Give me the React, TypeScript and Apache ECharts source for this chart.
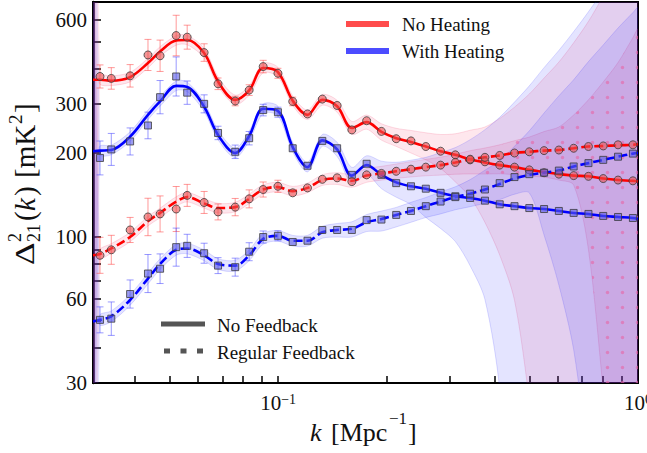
import React, { useEffect, useRef } from "react";
import * as echarts from "echarts";

// ---------------- data ----------------
// k values of the binned measurements (Mpc^-1)
const kData = [0.0320, 0.0344, 0.0388, 0.0435, 0.0470, 0.0521, 0.0559, 0.0623, 0.0681, 0.0760, 0.0831, 0.0909,
  0.0999, 0.1098, 0.1207, 0.1327, 0.1459, 0.1603, 0.1762, 0.1937, 0.2129, 0.2340, 0.2573, 0.2828, 0.3108, 0.3417,
  0.3756, 0.4128, 0.4538, 0.4988, 0.5483, 0.6027, 0.6625, 0.7283, 0.8005, 0.8800, 0.9680];
// k grid of the fitted curves (axis edge + measurement k + axis edge)
const kFit = [0.0306, 0.0320, 0.0344, 0.0388, 0.0435, 0.0470, 0.0521, 0.0559, 0.0623, 0.0681, 0.0760, 0.0831, 0.0909,
  0.0999, 0.1098, 0.1207, 0.1327, 0.1459, 0.1603, 0.1762, 0.1937, 0.2129, 0.2340, 0.2573, 0.2828, 0.3108, 0.3417,
  0.3756, 0.4128, 0.4538, 0.4988, 0.5483, 0.6027, 0.6625, 0.7283, 0.8005, 0.8800, 0.9680, 1.0];

// measured points
const noHeatNoFb = [376, 370, 378, 449, 446, 527, 520, 458, 354, 307, 336, 408, 386, 306, 276, 312, 296, 242, 261, 239,
  225, 221, 211, 203, 197, 189, 186, 181, 178, 174, 170, 168, 166, 165, 162, 160, 159];
const heatNoFb = [192, 206, 220, 251, 317, 376, 329, 300, 236, 202, 226, 285, 280, 208, 180, 221, 208, 167, 183, 167,
  156, 152, 149, 144, 140, 138, 135, 131, 129, 127, 126, 124, 122, 121, 119, 118, 117];
const noHeatFb = [86, 90, 106, 118, 121, 126, 141, 133, 123, 128, 137, 148, 152, 144, 150, 161, 163, 158, 167, 169,
  172, 175, 178, 181, 185, 190, 193, 196, 200, 202, 204, 205, 208, 211, 212, 214, 214];
const heatFb = [50.5, 51, 62.5, 74, 77, 92, 93, 87.5, 79, 78, 88.6, 100, 101, 96, 97, 106, 106, 106, 115, 115.5,
  120, 124, 129, 134, 139, 143, 148, 156, 164, 168, 170, 173, 179, 184, 189, 194, 199];

// fractional error bars
const errNoHeatNoFb = [0.100, 0.093, 0.097, 0.137, 0.138, 0.182, 0.104, 0.075, 0.049, 0.040, 0.045, 0.053, 0.042, 0.036,
  0.030, 0.028, 0.025, 0.022, 0.020, 0.018, 0.015, 0.012, 0.010, 0, 0, 0, 0, 0, 0, 0, 0, 0, 0, 0, 0, 0, 0];
const errHeatNoFb = [0.150, 0.141, 0.118, 0.116, 0.147, 0.175, 0.101, 0.077, 0.057, 0.057, 0.057, 0.049, 0.042, 0.033,
  0.030, 0.028, 0.025, 0.022, 0.020, 0.018, 0.015, 0.012, 0.010, 0, 0, 0, 0, 0, 0, 0, 0, 0, 0, 0, 0, 0, 0];
const errNoHeatFb = [0.160, 0.127, 0.109, 0.167, 0.160, 0.204, 0.095, 0.095, 0.068, 0.074, 0.077, 0.064, 0.051, 0.033,
  0.025, 0.025, 0.022, 0.020, 0.018, 0.015, 0.012, 0.010, 0.008, 0, 0, 0, 0, 0, 0, 0, 0, 0, 0, 0, 0, 0, 0];
const errHeatFb = [0.113, 0.148, 0.123, 0.170, 0.130, 0.170, 0.100, 0.086, 0.068, 0.077, 0.077, 0.051, 0.042, 0.033,
  0.030, 0.028, 0.025, 0.022, 0.020, 0.018, 0.015, 0.012, 0.010, 0, 0, 0, 0, 0, 0, 0, 0, 0, 0, 0, 0, 0, 0];

// fitted curves on kFit
const fitNoHeatNoFb = [366, 366, 363, 374, 420, 462, 506, 508, 456, 361, 310, 335, 403, 390, 308, 274, 310, 294, 246, 258,
  238, 226, 219, 211, 203, 197, 190, 185, 181, 178, 174, 171, 168, 166, 165, 162, 160, 159, 158];
const fitHeatNoFb = [203, 204, 205, 229, 274, 306, 348, 345, 293, 232, 200, 230, 288, 283, 210, 178, 222, 206, 166, 181,
  167, 157, 152, 149, 144, 140, 138, 135, 131, 129, 127, 126, 124, 122, 121, 119, 118, 117, 116];
const fitNoHeatFb = [86, 87, 91, 100, 114, 122, 134, 139, 132, 127, 128, 137, 148, 151, 146, 150, 160, 162, 159, 166,
  169, 172, 175, 178, 181, 185, 190, 193, 196, 200, 202, 204, 205, 208, 211, 212, 213, 214, 215];
const fitHeatFb = [49.8, 50.5, 52, 59.5, 71, 80, 90, 91, 86, 80, 79, 86, 98.5, 101, 97, 97, 104, 106, 107, 113,
  116, 120, 124, 129, 134, 139, 143, 148, 155, 162, 167, 170, 173, 179, 184, 189, 194, 199, 200];

// uncertainty band: multiplicative factors (upper = fit*up, lower = fit/lo) on kFit
const upNoHeatNoFb = [30, 1.04, 1.04, 1.04, 1.04, 1.04, 1.04, 1.04, 1.04, 1.04, 1.04, 1.04, 1.04, 1.04, 1.04, 1.04,
  1.045, 1.05, 1.055, 1.06, 1.07, 1.085, 1.10, 1.12, 1.148, 1.19, 1.27, 1.34, 1.47, 1.64, 1.87, 2.17, 2.52, 2.99, 3.59,
  4.52, 5.9, 7.9, 8.6];
const loNoHeatNoFb = [30, 1.04, 1.04, 1.04, 1.04, 1.04, 1.04, 1.04, 1.04, 1.04, 1.04, 1.04, 1.04, 1.04, 1.04, 1.04,
  1.045, 1.05, 1.055, 1.06, 1.07, 1.07, 1.095, 1.116, 1.153, 1.25, 1.368, 1.64, 2.10, 3.0, 6.7, 20, 30, 40, 50, 60,
  70, 80, 80];
const upHeatNoFb = [30, 1.04, 1.04, 1.04, 1.04, 1.04, 1.04, 1.04, 1.04, 1.04, 1.04, 1.04, 1.04, 1.04, 1.04, 1.04,
  1.05, 1.06, 1.07, 1.08, 1.12, 1.18, 1.24, 1.295, 1.394, 1.494, 1.618, 1.796, 2.05, 2.36, 2.74, 3.21, 3.76, 4.46, 5.3,
  6.45, 8.35, 11.3, 12.3];
const loHeatNoFb = [30, 1.04, 1.04, 1.04, 1.04, 1.04, 1.04, 1.04, 1.04, 1.04, 1.04, 1.04, 1.04, 1.04, 1.04, 1.04,
  1.05, 1.06, 1.07, 1.08, 1.12, 1.13, 1.163, 1.267, 1.342, 1.453, 1.75, 2.26, 4.6, 25, 40, 50, 60, 70, 80, 90, 100,
  100, 100];
const upNoHeatFb = [30, 1.04, 1.04, 1.04, 1.04, 1.04, 1.04, 1.04, 1.04, 1.04, 1.04, 1.04, 1.04, 1.04, 1.04, 1.04,
  1.045, 1.05, 1.055, 1.06, 1.06, 1.062, 1.064, 1.066, 1.068, 1.07, 1.073, 1.08, 1.092, 1.107, 1.129, 1.17, 1.209,
  1.316, 1.47, 1.695, 1.98, 2.42, 2.58];
const loNoHeatFb = [30, 1.04, 1.04, 1.04, 1.04, 1.04, 1.04, 1.04, 1.04, 1.04, 1.04, 1.04, 1.04, 1.04, 1.04, 1.04,
  1.045, 1.05, 1.055, 1.057, 1.057, 1.06, 1.066, 1.074, 1.086, 1.102, 1.129, 1.148, 1.163, 1.196, 1.222, 1.245, 1.281,
  1.354, 2.34, 7.5, 27, 50, 60];
const upHeatFb = [30, 1.045, 1.045, 1.045, 1.045, 1.045, 1.045, 1.045, 1.045, 1.045, 1.045, 1.045, 1.045, 1.045, 1.045,
  1.045, 1.05, 1.055, 1.06, 1.065, 1.068, 1.064, 1.074, 1.074, 1.083, 1.089, 1.123, 1.173, 1.212, 1.305, 1.438, 1.636,
  1.852, 2.045, 2.31, 2.58, 2.89, 3.2, 3.31];
const loHeatFb = [30, 1.045, 1.045, 1.045, 1.045, 1.045, 1.045, 1.045, 1.045, 1.045, 1.045, 1.045, 1.045, 1.045, 1.045,
  1.045, 1.05, 1.06, 1.07, 1.08, 1.104, 1.104, 1.098, 1.098, 1.107, 1.11, 1.113, 1.12, 1.138, 1.138, 1.16, 1.672, 2.57,
  4.53, 11.6, 27, 40, 60, 70];

// axis ticks / labels
const xTickValues = [0.04, 0.05, 0.06, 0.07, 0.08, 0.09, 0.1, 0.2, 0.3, 0.4, 0.5, 0.6, 0.7, 0.8, 0.9, 1];
const xLabelValues = [0.1, 1];
const yTickValues = [40, 50, 60, 70, 80, 90, 100, 200, 300, 400, 500, 600];
const yLabelValues = [30, 60, 100, 200, 300, 600];
const hatchStartIndex = 27; // index in kFit where the dotted hatch starts

// ---------------- styles ----------------
const FONT = "'Liberation Serif', 'DejaVu Serif', serif";
const TXT = "#111";
const RED = "#ff0000";
const BLUE = "#0000ff";
const RED_FILL = "rgba(245,40,90,0.11)";
const BLUE_FILL = "rgba(50,50,255,0.13)";
const RED_EDGE = "rgba(245,40,90,0.2)";
const BLUE_EDGE = "rgba(50,50,255,0.22)";

function bandSeries(fit: number[], up: number[], lo: number[], fill: string, edge: string) {
  return {
    type: "custom",
    coordinateSystem: "cartesian2d",
    clip: true,
    silent: true,
    z: 1,
    data: [[0.1, 100]],
    renderItem: (_p: any, api: any) => {
      const upper: number[][] = [];
      const lower: number[][] = [];
      for (let i = 1; i < kFit.length; i++) {
        upper.push(api.coord([kFit[i], fit[i] * up[i]]));
        lower.push(api.coord([kFit[i], fit[i] / lo[i]]));
      }
      const wedge = [
        api.coord([kFit[0], fit[0] * up[0]]),
        upper[0],
        lower[0],
        api.coord([kFit[0], fit[0] / lo[0]]),
      ];
      const main = upper.concat(lower.slice().reverse());
      return {
        type: "group",
        children: [
          { type: "polygon", shape: { points: main, smooth: 0.3 }, style: { fill, stroke: edge, lineWidth: 0.8 } },
          { type: "polygon", shape: { points: wedge }, style: { fill } },
        ],
      };
    },
  };
}

function hatchSeries(fit: number[], up: number[], lo: number[], pattern: any) {
  return {
    type: "custom",
    coordinateSystem: "cartesian2d",
    clip: true,
    silent: true,
    z: 1,
    data: [[0.5, 100]],
    renderItem: (_p: any, api: any) => {
      const upper: number[][] = [];
      const lower: number[][] = [];
      for (let i = hatchStartIndex; i < kFit.length; i++) {
        upper.push(api.coord([kFit[i], fit[i] * up[i]]));
        lower.push(api.coord([kFit[i], fit[i] / lo[i]]));
      }
      const pts = upper.concat(lower.slice().reverse());
      return { type: "polygon", shape: { points: pts, smooth: 0.3 }, style: { fill: pattern } };
    },
  };
}

function errSeries(vals: number[], errs: number[], color: string) {
  return {
    type: "custom",
    coordinateSystem: "cartesian2d",
    clip: true,
    silent: true,
    z: 2,
    encode: { x: 0, y: 1 },
    data: kData.map((k, i) => [k, vals[i], errs[i]]),
    renderItem: (_p: any, api: any) => {
      const k = api.value(0);
      const v = api.value(1);
      const e = api.value(2);
      if (!e) return null;
      const top = api.coord([k, v * (1 + e)]);
      const bot = api.coord([k, v / (1 + e)]);
      if (bot[1] - top[1] < 8) return null;
      const cw = 3.5;
      const st = { stroke: color, lineWidth: 1 };
      return {
        type: "group",
        children: [
          { type: "line", shape: { x1: top[0], y1: top[1], x2: bot[0], y2: bot[1] }, style: st },
          { type: "line", shape: { x1: top[0] - cw, y1: top[1], x2: top[0] + cw, y2: top[1] }, style: st },
          { type: "line", shape: { x1: bot[0] - cw, y1: bot[1], x2: bot[0] + cw, y2: bot[1] }, style: st },
        ],
      };
    },
  };
}

function lineSeries(fit: number[], color: string, dashed: boolean) {
  return {
    type: "line",
    silent: true,
    z: 3,
    smooth: 0.35,
    showSymbol: false,
    data: kFit.map((k, i) => [k, fit[i]]),
    lineStyle: { color, width: 2.6, type: dashed ? [9, 4] : "solid", cap: "butt" },
  };
}

function markerSeries(vals: number[], symbol: string, size: number, fill: string) {
  return {
    type: "scatter",
    silent: true,
    z: 4,
    symbol,
    symbolSize: size,
    data: kData.map((k, i) => [k, vals[i]]),
    itemStyle: { color: fill, borderColor: "rgba(60,60,60,0.8)", borderWidth: 1, opacity: 1 },
  };
}

function txt(x: number, y: number, text: string, size: number, extra: any = {}, el: any = {}) {
  return {
    type: "text",
    x,
    y,
    silent: true,
    ...el,
    style: {
      text,
      fontSize: size,
      fontFamily: FONT,
      fill: TXT,
      align: "left",
      verticalAlign: "middle",
      textAlign: "left",
      textVerticalAlign: "middle",
      ...extra,
    },
  };
}

function buildOption() {
  const pc = document.createElement("canvas");
  pc.width = 15;
  pc.height = 15;
  const ctx = pc.getContext("2d")!;
  ctx.fillStyle = "rgba(232,100,165,0.6)";
  ctx.beginPath();
  ctx.arc(7.5, 7.5, 1.7, 0, Math.PI * 2);
  ctx.fill();
  const pattern = { image: pc, repeat: "repeat", imageWidth: 15, imageHeight: 15 };

  return {
    animation: false,
    backgroundColor: "#fff",
    grid: {
      left: 93,
      top: 2,
      width: 545,
      height: 381,
      show: true,
      borderColor: "#000",
      borderWidth: 2,
      backgroundColor: "transparent",
      containLabel: false,
      outerBoundsMode: "none",
    },
    xAxis: {
      type: "log",
      logBase: 10,
      min: 0.0306,
      max: 1,
      axisLine: { show: true, onZero: false, lineStyle: { color: "#000", width: 2 } },
      axisTick: { show: true, inside: true, length: 7, customValues: xTickValues, lineStyle: { color: "#000", width: 1.5 } },
      minorTick: { show: false },
      splitLine: { show: false },
      axisLabel: {
        customValues: xLabelValues,
        margin: 9,
        formatter: (v: number) => (v < 0.5 ? "{b|10}{s|\u22121}" : "{b|10}{s|0}"),
        rich: {
          b: { fontFamily: FONT, fontSize: 21, color: TXT, lineHeight: 22 },
          s: { fontFamily: FONT, fontSize: 14, color: TXT, lineHeight: 14, verticalAlign: "top" },
        },
      },
    },
    yAxis: {
      type: "log",
      logBase: 10,
      min: 30,
      max: 695,
      axisLine: { show: true, onZero: false, lineStyle: { color: "#000", width: 2.5 } },
      axisTick: { show: true, inside: true, length: 8, customValues: yTickValues, lineStyle: { color: "#000", width: 1.5 } },
      minorTick: { show: false },
      splitLine: { show: false },
      axisLabel: {
        customValues: yLabelValues,
        margin: 6,
        fontFamily: FONT,
        fontSize: 21,
        color: TXT,
        formatter: (v: number) => String(Math.round(v)),
      },
    },
    series: [
      bandSeries(fitNoHeatNoFb, upNoHeatNoFb, loNoHeatNoFb, RED_FILL, RED_EDGE),
      bandSeries(fitNoHeatFb, upNoHeatFb, loNoHeatFb, RED_FILL, RED_EDGE),
      bandSeries(fitHeatNoFb, upHeatNoFb, loHeatNoFb, BLUE_FILL, BLUE_EDGE),
      bandSeries(fitHeatFb, upHeatFb, loHeatFb, BLUE_FILL, BLUE_EDGE),
      hatchSeries(fitNoHeatFb, upNoHeatFb, loNoHeatFb, pattern),
      errSeries(noHeatNoFb, errNoHeatNoFb, "rgba(255,70,70,0.55)"),
      errSeries(heatNoFb, errHeatNoFb, "rgba(70,70,255,0.55)"),
      errSeries(noHeatFb, errNoHeatFb, "rgba(255,70,70,0.55)"),
      errSeries(heatFb, errHeatFb, "rgba(70,70,255,0.55)"),
      lineSeries(fitNoHeatNoFb, RED, false),
      lineSeries(fitHeatNoFb, BLUE, false),
      lineSeries(fitNoHeatFb, RED, true),
      lineSeries(fitHeatFb, BLUE, true),
      markerSeries(noHeatNoFb, "circle", 8, "rgba(235,80,80,0.6)"),
      markerSeries(heatNoFb, "rect", 7, "rgba(90,90,230,0.6)"),
      markerSeries(noHeatFb, "circle", 8, "rgba(235,80,80,0.6)"),
      markerSeries(heatFb, "rect", 7, "rgba(90,90,230,0.6)"),
    ],
    graphic: [
      // top legend (colour)
      { type: "line", silent: true, shape: { x1: 346, y1: 24, x2: 389, y2: 24 }, style: { stroke: "rgba(255,0,0,0.7)", lineWidth: 6 } },
      txt(402, 24, "No Heating", 19),
      { type: "line", silent: true, shape: { x1: 346, y1: 51, x2: 389, y2: 51 }, style: { stroke: "rgba(0,0,255,0.7)", lineWidth: 6 } },
      txt(402, 51, "With Heating", 19),
      // bottom legend (line style)
      { type: "line", silent: true, shape: { x1: 161, y1: 324, x2: 205, y2: 324 }, style: { stroke: "#555", lineWidth: 5 } },
      txt(217, 325, "No Feedback", 19),
      { type: "line", silent: true, shape: { x1: 164, y1: 351, x2: 205, y2: 351 }, style: { stroke: "#555", lineWidth: 5, lineDash: [6, 10.5] } },
      txt(217, 352, "Regular Feedback", 19),
      // x axis title
      txt(310, 432, "k", 26, { fontStyle: "italic" }),
      txt(331, 432, "[Mpc", 26),
      txt(389, 418, "\u22121", 17),
      txt(408, 432, "]", 26),
      // y axis title (rotated)
      {
        type: "group",
        x: 25,
        y: 265,
        rotation: Math.PI / 2,
        silent: true,
        children: [
          txt(0, 0, "\u0394", 28, {}, { scaleX: 1.25 }),
          txt(23, -10, "2", 18),
          txt(23, 9, "21", 18),
          txt(44, 0, "(", 29),
          txt(54, 0, "k", 29, { fontStyle: "italic" }),
          txt(69, 0, ")", 29),
          txt(87, 0, "[mK", 29),
          txt(141, -10, "2", 19),
          txt(152, 0, "]", 29),
        ],
      },
    ],
  };
}

export default function App() {
  const ref = useRef<HTMLDivElement>(null);
  useEffect(() => {
    const el = ref.current;
    if (!el) return;
    const chart = echarts.init(el, undefined, { renderer: "svg" });
    chart.setOption(buildOption() as any);
    return () => chart.dispose();
  }, []);
  return (
    <div
      ref={ref}
      style={{ position: "fixed", left: 0, top: 0, width: 647, height: 453, background: "#fff" }}
    />
  );
}
